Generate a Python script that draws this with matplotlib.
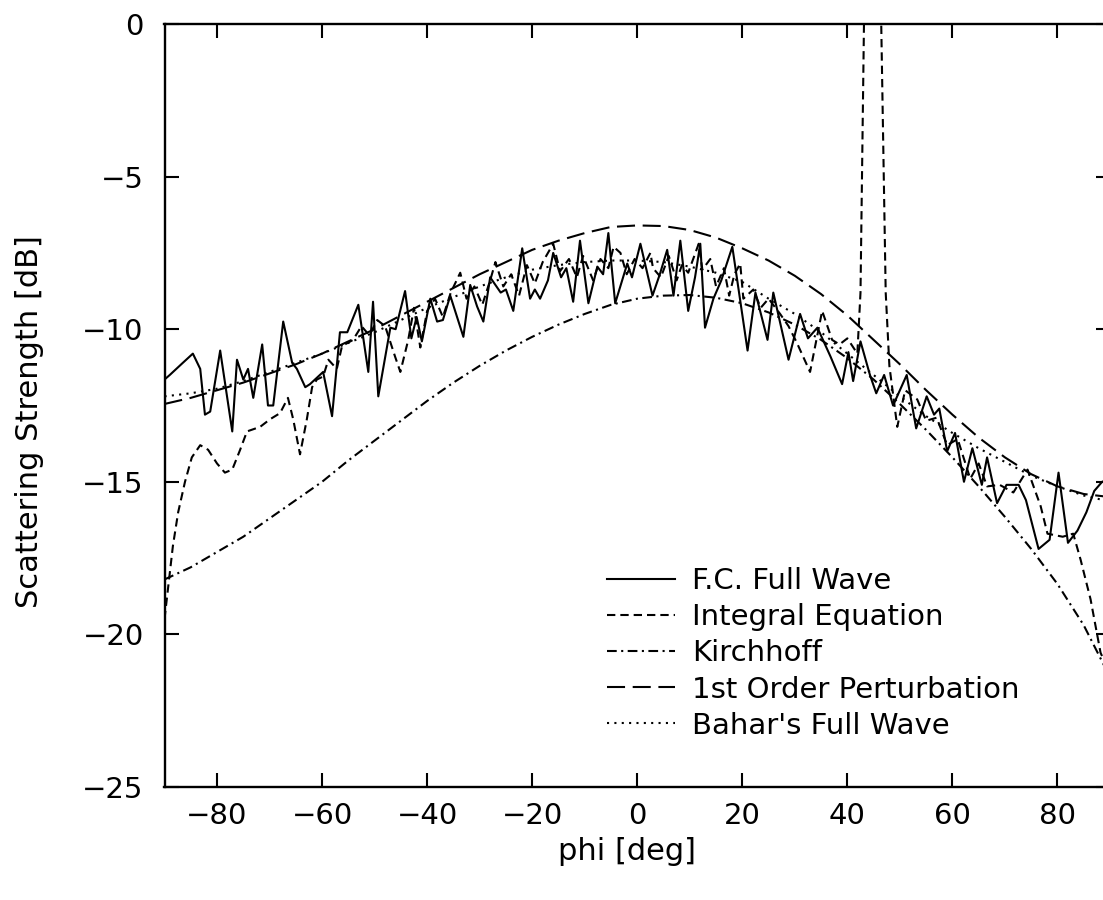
import matplotlib
matplotlib.use("Agg")
import matplotlib.pyplot as plt

# ---------------- data ----------------
fc_x = [-90, -89, -86.5, -84.6, -83.2, -82.3, -81.3, -79.4, -77.1, -76.2, -75.0, -74.1,
        -73.1, -71.4, -70.3, -69.3, -67.4, -65.7, -64.8, -63.2, -62.3, -59.8, -58.1, -56.6,
        -55.2, -53.1, -51.2, -50.3, -49.3, -47.0, -46.0, -44.2, -43.0, -42.0, -41.0, -39.4,
        -38.1, -37.0, -35.6, -33.1, -31.8, -30.5, -29.3, -28.0, -26.0, -25.0, -23.6, -21.9,
        -20.4, -19.5, -18.5, -17.0, -16.0, -14.5, -13.5, -12.2, -10.9, -9.3, -7.6, -6.5,
        -5.5, -4.2, -1.9, -1.0, 0.6, 2.9, 4.3, 5.7, 6.9, 8.2, 9.7, 11.0, 12.0, 12.9, 14.5,
        16.0, 18.1, 21.0, 22.5, 24.8, 25.9, 28.8, 31.0, 32.5, 34.3, 36.8, 39.0, 40.2, 41.1,
        42.5, 44.3, 45.5, 47.0, 48.7, 51.3, 53.1, 55.1, 56.5, 57.5, 59.0, 60.5, 62.2, 63.8,
        65.6, 66.6, 68.5, 70.3, 72.6, 74.0, 76.4, 78.5, 80.2, 82.0, 83.8, 85.5, 87.0, 88.5, 90.0]
fc_y = [-11.65, -11.5, -11.1, -10.8, -11.3, -12.8, -12.7, -10.7, -13.35, -11.0, -11.65, -11.3,
        -12.25, -10.5, -12.5, -12.5, -9.75, -11.1, -11.3, -11.9, -11.8, -11.4, -12.85, -10.1,
        -10.1, -9.2, -11.4, -9.1, -12.2, -9.95, -10.0, -8.75, -10.3, -9.6, -10.4, -9.0,
        -9.75, -9.7, -8.9, -10.25, -8.55, -9.25, -9.75, -8.3, -8.8, -8.7, -9.4, -7.35,
        -9.0, -8.7, -9.0, -8.4, -7.5, -8.3, -8.0, -9.1, -7.1, -9.15, -7.95, -8.2,
        -6.85, -9.15, -7.85, -8.3, -7.2, -8.9, -8.2, -7.4, -8.9, -7.1, -9.4, -8.3, -7.2, -9.95, -9.0,
        -8.4, -7.3, -10.7, -8.8, -10.35, -8.8, -11.0, -9.5, -10.3, -9.95, -10.9, -11.8, -10.75, -11.7,
        -10.4, -11.5, -12.1, -11.5, -12.5, -11.5, -13.25, -12.2, -12.8, -12.6, -14.0, -13.4, -15.0, -13.9,
        -15.1, -14.2, -15.7, -15.1, -15.1, -15.6, -17.2, -16.9, -14.7, -17.0, -16.6, -16.0, -15.3, -15.0, -14.9]

ie_x = [-90.0, -88.4, -87.4, -86.1, -84.8, -83.2, -81.7, -80.0, -78.5, -77.1, -75.6, -74.3,
        -71.8, -69.9, -68.0, -66.5, -65.5, -64.2, -62.9, -61.9, -61.0, -59.8, -58.8, -57.2,
        -56.2, -54.1, -52.5, -51.0, -49.5, -48.0, -46.1, -45.1, -43.6, -42.5, -41.3, -40.0,
        -38.5, -37.0, -35.5, -33.7, -32.5, -31.0, -29.5, -28.0, -27.0, -25.5, -24.0, -22.5,
        -21.0, -19.5, -18.0, -16.0, -14.7, -13.0, -11.5, -10.3, -8.4, -7.0, -5.5, -4.5,
        -3.2, -2.0, -0.5, 1.0, 2.5, 3.0, 4.5, 6.0, 7.5, 8.5, 9.7, 11.7, 12.4, 13.9, 15.0,
        16.5, 17.5, 18.5, 19.6, 20.2, 22.1, 23.5, 25.0, 27.2, 28.8, 30.4, 32.9, 35.2, 37.1,
        38.5, 40.0, 41.9, 42.5, 43.2, 44.5, 45.5, 46.4, 47.3, 48.0, 49.5, 51.0, 53.3, 55.0,
        57.0, 59.0, 61.0, 63.4, 65.0, 66.6, 69.0, 71.6, 74.3, 76.8, 78.1, 81.0, 83.0, 84.4,
        86.3, 88.2, 90.0]
ie_y = [-19.5, -17.1, -16.0, -15.0, -14.2, -13.8, -13.95, -14.4, -14.7, -14.6, -13.95, -13.35,
        -13.2, -12.95, -12.75, -12.25, -12.95, -14.1, -12.95, -11.9, -11.65, -11.55, -11.0, -11.3,
        -10.55, -10.35, -9.9, -10.2, -9.7, -9.9, -10.9, -11.4, -10.35, -9.3, -10.6, -9.4,
        -9.0, -9.6, -8.8, -8.15, -9.0, -8.6, -9.2, -8.4, -7.8, -8.6, -8.2, -8.9,
        -7.9, -8.5, -7.8, -7.2, -8.1, -7.7, -8.3, -7.6, -8.4, -7.7, -8.0, -7.3,
        -7.5, -8.2, -7.7, -8.0, -7.5, -8.0, -8.3, -7.6, -8.4, -7.9, -8.15, -7.2, -8.05, -7.7, -8.6,
        -8.0, -8.9, -8.2, -7.85, -9.0, -8.7, -9.3, -9.0, -9.5, -9.9, -10.45, -11.4, -9.4, -10.35,
        -10.5, -10.3, -10.8, -8.8, 0.5, 6.0, 6.0, 0.5, -8.8, -11.2, -13.2, -12.0, -12.3, -13.0,
        -12.9, -13.8, -13.6, -14.9, -14.4, -15.15, -15.1, -15.35, -14.6, -15.8, -16.7, -16.8, -16.7, -17.55,
        -18.85, -20.6, -21.3]

smooth_x = [-90, -85, -80, -75, -70, -65, -60, -55, -50, -45, -40, -35, -30, -25, -20, -15, -10,
            -5, 0, 5, 10, 15, 20, 25, 30, 35, 40, 45, 50, 55, 60, 65, 70, 75, 80, 85, 90]
kirchhoff_y = [-18.2, -17.8, -17.3, -16.8, -16.2, -15.6, -15.0, -14.3, -13.65, -13.0, -12.35,
               -11.75, -11.2, -10.7, -10.25, -9.85, -9.5, -9.2, -9.0, -8.9, -8.88, -8.97, -9.15,
               -9.45, -9.85, -10.35, -10.95, -11.65, -12.45, -13.3, -14.2, -15.15, -16.15,
               -17.2, -18.35, -19.7, -21.4]
pert_y = [-12.45, -12.25, -12.0, -11.75, -11.45, -11.15, -10.8, -10.4, -10.0, -9.55, -9.1,
          -8.65, -8.2, -7.8, -7.4, -7.1, -6.85, -6.65, -6.6, -6.62, -6.75, -7.0, -7.35, -7.75,
          -8.25, -8.85, -9.55, -10.35, -11.15, -12.0, -12.8, -13.55, -14.2, -14.75, -15.15,
          -15.4, -15.5]
bahar_y = [-12.2, -12.1, -11.95, -11.7, -11.4, -11.1, -10.8, -10.45, -10.1, -9.7, -9.3, -8.95,
           -8.6, -8.3, -8.05, -7.9, -7.8, -7.75, -7.75, -7.8, -7.95, -8.15, -8.45, -9.0, -9.5,
           -10.1, -10.8, -11.5, -12.2, -12.85, -13.4, -13.9, -14.35, -14.8, -15.15, -15.45, -15.65]

labels = ["F.C. Full Wave", "Integral Equation", "Kirchhoff",
          "1st Order Perturbation", "Bahar's Full Wave"]
x_ticks = [-80, -60, -40, -20, 0, 20, 40, 60, 80]
y_ticks = [-25, -20, -15, -10, -5, 0]

# ---------------- figure ----------------
plt.rcParams['font.family'] = ['DejaVu Sans']
plt.rcParams['lines.scale_dashes'] = False

fig = plt.figure(figsize=(11.03, 9.0), dpi=100)
ax = fig.add_axes([164.5 / 1103, 113 / 900, 945.5 / 1103, 763 / 900])

lw = 1.5
ax.plot(fc_x, fc_y, color='black', lw=lw, linestyle='-', label=labels[0])
ax.plot(ie_x, ie_y, color='black', lw=lw, linestyle=(0, (6.0, 3.6)), label=labels[1])
ax.plot(smooth_x, kirchhoff_y, color='black', lw=lw, linestyle=(0, (7.0, 3.2, 1.5, 3.2)), label=labels[2])
ax.plot(smooth_x, pert_y, color='black', lw=lw, linestyle=(0, (13.0, 5.5)), label=labels[3])
ax.plot(smooth_x, bahar_y, color='black', lw=lw, linestyle=(0, (1.5, 3.8)), label=labels[4])

ax.set_xlim(-90, 90)
ax.set_ylim(-25, 0)
ax.set_xticks(x_ticks)
ax.set_yticks(y_ticks)
ax.tick_params(direction='in', length=10, width=1.5, top=True, right=True,
               labelsize=21, pad=11)
ax.tick_params(axis='y', pad=15)
for s in ax.spines.values():
    s.set_linewidth(1.7)

ax.set_xlabel("phi [deg]", fontsize=22)
ax.xaxis.set_label_coords(0.5 - 10 / 945.5, (787 - 852) / 763)
ax.xaxis.label.set_va('center')
ax.set_ylabel("Scattering Strength [dB]", fontsize=22)
ax.yaxis.set_label_coords((30 - 164.5) / 945.5, (787 - 422) / 763)
ax.yaxis.label.set_va('center')

leg = ax.legend(loc='upper left', bbox_to_anchor=(607 / 1103, (900 - 567) / 900),
                bbox_transform=fig.transFigure, frameon=False, fontsize=21,
                borderpad=0, borderaxespad=0, handlelength=2.33, handletextpad=0.58,
                labelspacing=0.28)

fig.savefig("out.png", dpi=100)
